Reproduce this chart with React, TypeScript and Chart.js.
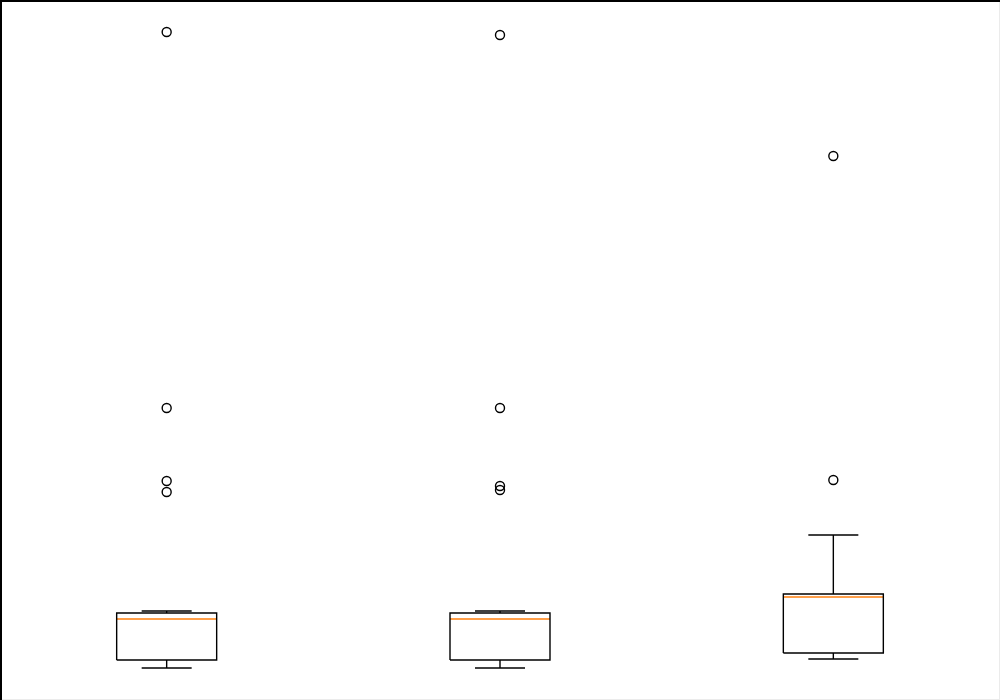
import React, { useEffect, useRef } from "react";
import { Chart, registerables } from "chart.js";

Chart.register(...registerables);

const categories = [1, 2, 3];
const q1 = [40, 40, 47];
const q3 = [87, 87, 106];
const medians = [81, 81, 103];
const whiskerLow = [32, 32, 41];
const whiskerHigh = [89, 89, 165];
const outliers = [
  [668, 292, 219, 208],
  [665, 292, 214, 210],
  [544, 220],
];

const BOX_HALF = 0.15;
const CAP_HALF = 0.075;
const LINE_W = 1.4;

const framePlugin = {
  id: "frame",
  afterDraw(chart: any) {
    const { ctx, width, height } = chart;
    ctx.save();
    ctx.strokeStyle = "#ebebeb";
    ctx.lineWidth = 1;
    ctx.beginPath();
    ctx.moveTo(width - 0.5, 0);
    ctx.lineTo(width - 0.5, height);
    ctx.moveTo(0, height - 0.5);
    ctx.lineTo(width, height - 0.5);
    ctx.stroke();
    ctx.strokeStyle = "#000000";
    ctx.lineWidth = 2;
    ctx.beginPath();
    ctx.moveTo(1, height);
    ctx.lineTo(1, 1);
    ctx.lineTo(width, 1);
    ctx.stroke();
    ctx.restore();
  },
};

function lineDs(points: { x: number; y: number }[], color: string) {
  return {
    type: "line" as const,
    data: points,
    borderColor: color,
    borderWidth: LINE_W,
    pointRadius: 0,
    fill: false,
    tension: 0,
    clip: false,
  };
}

export default function App() {
  const ref = useRef<HTMLCanvasElement | null>(null);

  useEffect(() => {
    if (!ref.current) return;
    const datasets: any[] = [];
    categories.forEach((c, i) => {
      // box
      datasets.push(
        lineDs(
          [
            { x: c - BOX_HALF, y: q1[i] },
            { x: c + BOX_HALF, y: q1[i] },
            { x: c + BOX_HALF, y: q3[i] },
            { x: c - BOX_HALF, y: q3[i] },
            { x: c - BOX_HALF, y: q1[i] },
          ],
          "#000000"
        )
      );
      // whiskers
      datasets.push(lineDs([{ x: c, y: q3[i] }, { x: c, y: whiskerHigh[i] }], "#000000"));
      datasets.push(lineDs([{ x: c, y: q1[i] }, { x: c, y: whiskerLow[i] }], "#000000"));
      // caps
      datasets.push(
        lineDs([{ x: c - CAP_HALF, y: whiskerHigh[i] }, { x: c + CAP_HALF, y: whiskerHigh[i] }], "#000000")
      );
      datasets.push(
        lineDs([{ x: c - CAP_HALF, y: whiskerLow[i] }, { x: c + CAP_HALF, y: whiskerLow[i] }], "#000000")
      );
      // median
      datasets.push(
        lineDs([{ x: c - BOX_HALF, y: medians[i] }, { x: c + BOX_HALF, y: medians[i] }], "#ff7f0e")
      );
    });
    datasets.push({
      type: "scatter" as const,
      data: categories.flatMap((c, i) => outliers[i].map((v) => ({ x: c, y: v }))),
      showLine: false,
      pointStyle: "circle",
      pointRadius: 4.5,
      pointBorderWidth: 1.4,
      pointBorderColor: "#000000",
      pointBackgroundColor: "rgba(0,0,0,0)",
      clip: false,
    });

    const chart = new Chart(ref.current, {
      type: "line",
      data: { datasets },
      options: {
        animation: false,
        responsive: false,
        layout: { padding: 0, autoPadding: false },
        plugins: { legend: { display: false }, tooltip: { enabled: false } },
        scales: {
          x: { type: "linear", min: 0.5, max: 3.5, display: false },
          y: { type: "linear", min: 0, max: 700, display: false },
        },
      },
      plugins: [framePlugin],
    });
    return () => chart.destroy();
  }, []);

  return (
    <div style={{ position: "fixed", left: 0, top: 0, width: 1000, height: 700, background: "#ffffff" }}>
      <canvas ref={ref} width={1000} height={700} style={{ display: "block", width: 1000, height: 700 }} />
    </div>
  );
}
